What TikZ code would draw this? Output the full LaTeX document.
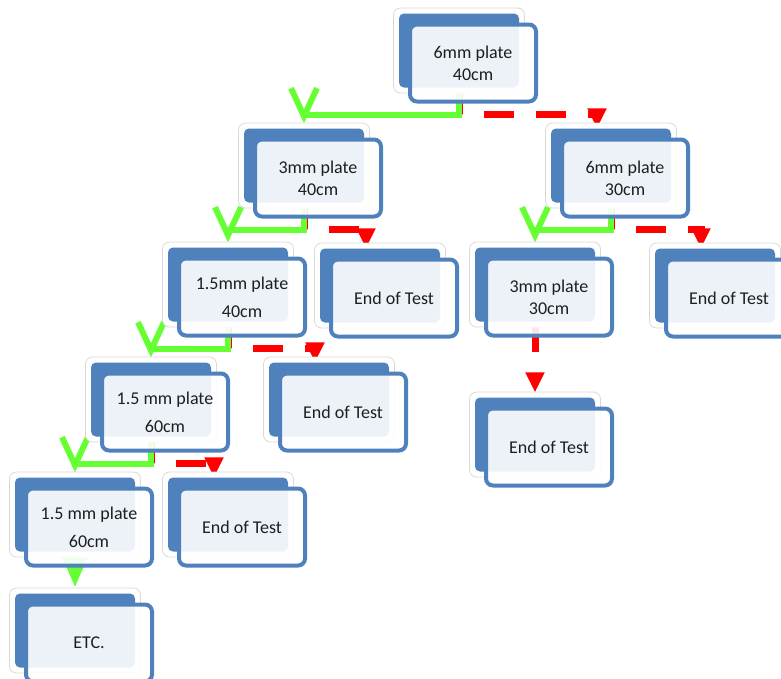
\documentclass[tikz,border=0pt]{standalone}
\usepackage{fontspec}
\setmainfont{Carlito}
\usetikzlibrary{calc,arrows.meta}

\definecolor{plateblue}{RGB}{79,129,189}
\definecolor{okgreen}{RGB}{102,255,51}
\definecolor{ink}{RGB}{30,30,30}
\newcommand{\platefont}{\fontsize{18}{22}\selectfont}

\pgfdeclarelayer{lines}
\pgfdeclarelayer{back}
\pgfsetlayers{lines,back,main}

\tikzset{
  front/.style={rectangle, rounded corners=7pt, draw=plateblue, line width=4pt,
    fill=white, fill opacity=0.9, text opacity=1, text=ink, font=\platefont,
    minimum width=126pt, minimum height=77pt, align=center},
  rear/.style={rectangle, rounded corners=5pt, fill=plateblue, inner sep=0pt,
    minimum width=120pt, minimum height=74pt},
  halo/.style={rectangle, rounded corners=7pt, fill=white, draw=gray!30, line width=0.8pt,
    inner sep=0pt, minimum width=131pt, minimum height=85pt},
  yesline/.style={draw=okgreen, line width=6pt, -{Straight Barb[length=28pt,width=26pt]}, shorten >=5pt},
  noline/.style={draw=red, line width=7pt, dash pattern=on 30pt off 22pt, -{Triangle[length=20pt,width=18pt]}}
}

% one plate box: name, position, text
\newcommand{\plate}[3]{%
  \node[front] (#1) at #2 {#3};
  \begin{pgfonlayer}{back}
    \node[halo] at ($(#1.center)+(-14,-12.5)$) {};
    \node[rear] (#1-b) at ($(#1.center)+(-14,-12.5)$) {};
  \end{pgfonlayer}}

\begin{document}
\begin{tikzpicture}[x=1pt, y=-1pt]
  \begin{pgfonlayer}{lines}
    \fill[white] (0,0) rectangle (781,678);
  \end{pgfonlayer}
  \useasboundingbox (0,0) rectangle (781,678);

  \plate{p6a}{(473,63)}{6mm plate\\40cm}
  \plate{p3a}{(318,178)}{3mm plate\\40cm}
  \plate{p6b}{(625,178)}{6mm plate\\30cm}
  \plate{p15a}{(242,297)}{1.5mm plate\\[6pt]40cm}
  \plate{endA}{(394,298)}{End of Test}
  \plate{p3b}{(549,297)}{3mm plate\\30cm}
  \plate{endB}{(729,298)}{End of Test}
  \plate{p15b}{(165,412)}{1.5 mm plate\\[6pt]60cm}
  \plate{endC}{(343,412)}{End of Test}
  \plate{endD}{(549,447)}{End of Test}
  \plate{p15c}{(89,527)}{1.5 mm plate\\[6pt]60cm}
  \plate{endE}{(242,527)}{End of Test}
  \plate{etc}{(89,643)}{ETC.}

  \begin{pgfonlayer}{lines}
    % failed: end of test or thicker plate
    \foreach \s/\t in {p6a/p6b, p3a/endA, p6b/endB, p15a/endC, p15b/endE}
      \draw[noline] (\s-b.south) -- ($(\s-b.south |- \s.south)+(0,11)$) -| ($(\t-b.north)+(-14,0)$);
    \draw[noline, shorten >=5pt] (p3b-b.south) -- (endD-b.north);
    % passed: next test
    \foreach \s/\t in {p6a/p3a, p3a/p15a, p6b/p3b, p15a/p15b, p15b/p15c}
      \draw[yesline] (\s-b.south) -- ($(\s-b.south |- \s.south)+(0,11)$) -| (\t-b.north);
    \draw[draw=okgreen, line width=6pt, -{Triangle[length=35pt,width=28pt]}, shorten >=6pt]
      (p15c-b.south) -- (etc-b.north);
  \end{pgfonlayer}
\end{tikzpicture}
\end{document}
